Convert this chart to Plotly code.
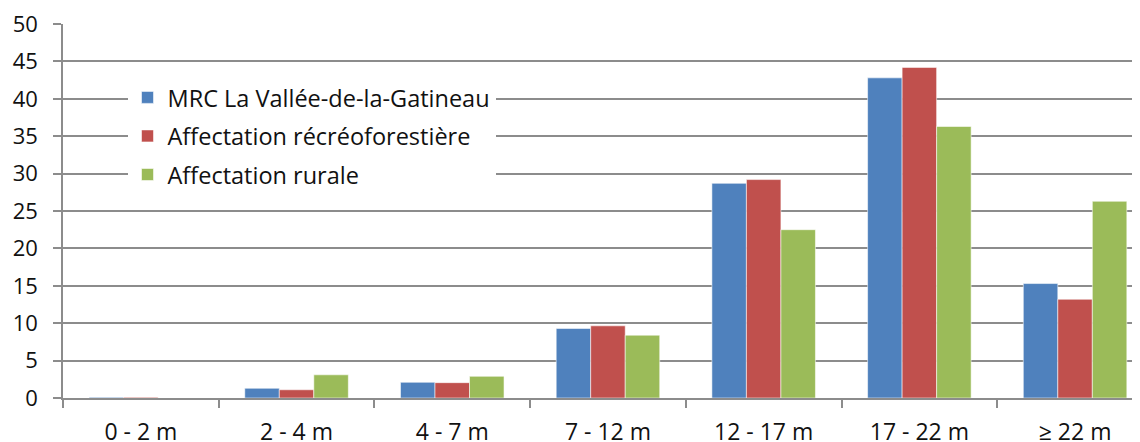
import plotly.graph_objects as go

categories = ["0 - 2 m", "2 - 4 m", "4 - 7 m", "7 - 12 m", "12 - 17 m", "17 - 22 m", "≥ 22 m"]
series_names = ["MRC La Vallée-de-la-Gatineau", "Affectation récréoforestière", "Affectation rurale"]
mrc_values = [0.1, 1.3, 2.1, 9.3, 28.7, 42.8, 15.3]
recreo_values = [0.1, 1.1, 2.05, 9.65, 29.2, 44.2, 13.2]
rurale_values = [0.0, 3.1, 2.9, 8.4, 22.5, 36.3, 26.3]
colors = ["#4F81BD", "#C0504D", "#9BBB59"]
y_ticks = [0, 5, 10, 15, 20, 25, 30, 35, 40, 45, 50]

FONT = "Open Sans"
GRID = "#8c8c8c"
TXT = "#111111"

fig = go.Figure()
for i, (name, vals) in enumerate(zip(series_names, [mrc_values, recreo_values, rurale_values])):
    fig.add_trace(go.Bar(
        x=categories, y=vals, name=name, legendgroup=f"g{i}",
        marker=dict(color=colors[i], line=dict(color="rgba(255,255,255,0.55)", width=1)),
    ))

# page body has an 8px margin: figure is sized/offset to compensate
fig.update_layout(
    width=1132, height=442,
    margin=dict(l=55, r=0, t=15.5, b=52),
    paper_bgcolor="white", plot_bgcolor="white",
    barmode="group", bargap=0.335, bargroupgap=0,
    font=dict(family=FONT, size=23, color=TXT),
    legend=dict(
        x=0.0599, xanchor="left", y=0.862, yanchor="top",
        bgcolor="white", borderwidth=0,
        font=dict(family=FONT, size=23.5, color=TXT),
        traceorder="grouped", tracegroupgap=5,
    ),
    showlegend=True,
)
fig.update_xaxes(
    type="category", range=[-0.5, 6.417], automargin=False,
    tickson="boundaries", ticks="outside", ticklen=8, tickcolor=GRID, tickwidth=1.5,
    showline=True, linecolor=GRID, linewidth=1.5,
    showgrid=False, tickfont=dict(family=FONT, size=23, color=TXT),
    ticklabelstandoff=13, ticklabeloverflow="allow",
)
fig.update_yaxes(
    range=[0, 50.0001], tickvals=y_ticks, automargin=False,
    ticks="outside", ticklen=8, tickcolor=GRID, tickwidth=1.5,
    showline=True, linecolor=GRID, linewidth=1.5,
    showgrid=True, gridcolor=GRID, gridwidth=1.5, zeroline=False,
    tickfont=dict(family=FONT, size=22, color=TXT),
    ticklabelstandoff=11, ticklabeloverflow="allow",
)

fig.write_html("out.html")
